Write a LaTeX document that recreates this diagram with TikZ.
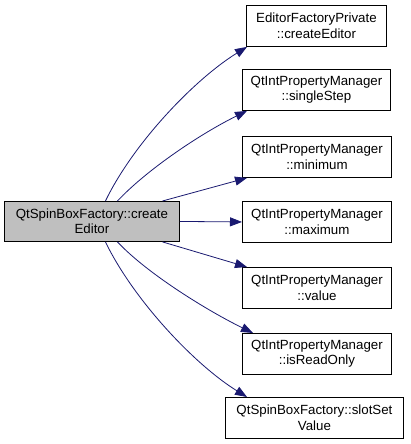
\documentclass[tikz,border=0pt]{standalone}
\usepackage{fontspec}
\setmainfont{Liberation Sans}
\usetikzlibrary{arrows.meta}
\definecolor{edgeblue}{HTML}{191970}
\begin{document}
\begin{tikzpicture}[x=1pt,y=-1pt,
  box/.style={draw=black, line width=0.9pt, fill=white, inner sep=0pt, align=center,
    font=\fontsize{13.3}{15.5}\selectfont, anchor=north west},
  srcbox/.style={box, fill=black!25},
  edge/.style={draw=edgeblue, line width=0.8pt, -{Triangle[length=12pt,width=9pt,fill=edgeblue]}}]
\useasboundingbox (0,0) rectangle (411,444);
\node[srcbox, minimum width=175pt, minimum height=40pt] (src) at (4,201) {QtSpinBoxFactory::create\\Editor};
\node[box, minimum width=140pt, minimum height=41pt] (n1) at (246,5) {EditorFactoryPrivate\\::createEditor};
\node[box, minimum width=148pt, minimum height=41pt] (n2) at (242,69) {QtIntPropertyManager\\::singleStep};
\node[box, minimum width=149pt, minimum height=41pt] (n3) at (242,136) {QtIntPropertyManager\\::minimum};
\node[box, minimum width=149pt, minimum height=41pt] (n4) at (242,201) {QtIntPropertyManager\\::maximum};
\node[box, minimum width=149pt, minimum height=41pt] (n5) at (242,267) {QtIntPropertyManager\\::value};
\node[box, minimum width=149pt, minimum height=41pt] (n6) at (242,333) {QtIntPropertyManager\\::isReadOnly};
\node[box, minimum width=178pt, minimum height=41pt] (n7) at (225,397) {QtSpinBoxFactory::slotSet\\Value};
\draw[edge] ([xshift=13.5pt]src.north) .. controls +(28,-58) and +(-52,32) .. ([xshift=1pt]n1.south west);
\draw[edge] ([xshift=25.5pt]src.north) .. controls +(30,-32) and +(-45,22) .. ([xshift=5pt]n2.south west);
\draw[edge] ([xshift=70.5pt]src.north) -- ([xshift=5pt]n3.south west);
\draw[edge] (src.east) -- (n4.west);
\draw[edge] ([xshift=70.5pt]src.south) -- ([xshift=5pt]n5.north west);
\draw[edge] ([xshift=25.5pt]src.south) .. controls +(30,32) and +(-45,-22) .. ([xshift=11pt]n6.north west);
\draw[edge] ([xshift=13.5pt]src.south) .. controls +(28,58) and +(-52,-32) .. ([xshift=22pt]n7.north west);
\end{tikzpicture}
\end{document}
